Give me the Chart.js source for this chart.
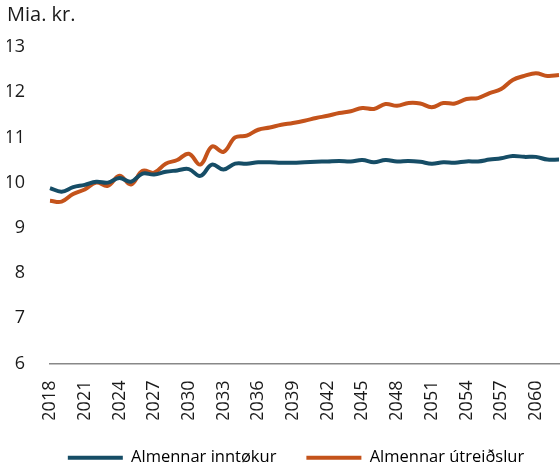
<!DOCTYPE html>
<html>
<head>
<meta charset="utf-8">
<script src="https://cdn.jsdelivr.net/npm/chart.js@4"></script>
<style>
  body { margin: 0; background: #fff; }
</style>
</head>
<body>
<canvas id="linechart" width="560" height="470"></canvas>
<script>
// Years on the x axis, a label is shown every third year
var years = [];
for (var y = 2018; y <= 2062; y++) years.push(String(y));

// Almennar inntøkur (mia. kr.)
var inntokur = [9.88, 9.80, 9.90, 9.95, 10.02, 10.00, 10.10, 10.02, 10.20, 10.18,
                10.24, 10.27, 10.30, 10.15, 10.40, 10.29, 10.42, 10.42, 10.45, 10.45,
                10.44, 10.44, 10.45, 10.46, 10.47, 10.48, 10.47, 10.50, 10.45, 10.50,
                10.47, 10.48, 10.46, 10.42, 10.45, 10.44, 10.47, 10.47, 10.51, 10.54,
                10.59, 10.57, 10.57, 10.51, 10.51];

// Almennar útreiðslur (mia. kr.)
var utreidslur = [9.60, 9.58, 9.75, 9.85, 10.00, 9.93, 10.15, 9.96, 10.26, 10.22,
                  10.42, 10.50, 10.64, 10.40, 10.80, 10.68, 11.00, 11.04, 11.17, 11.22,
                  11.28, 11.32, 11.37, 11.43, 11.48, 11.54, 11.58, 11.65, 11.63, 11.74,
                  11.70, 11.76, 11.75, 11.67, 11.76, 11.75, 11.85, 11.87, 11.98, 12.07,
                  12.27, 12.36, 12.42, 12.36, 12.38];

var blue = "#164d66",
    orange = "#c4531b",
    textColor = "#1a1a1a";

Chart.defaults.font.family = "'Open Sans', sans-serif";
Chart.defaults.font.size = 18;
Chart.defaults.color = textColor;

// nudge the legend a little to the right, like in the original
var legendShift = {
  id: "legendShift",
  afterLayout: function(chart) {
    chart.legend.left += 13;
    chart.legend.right += 13;
  }
};

var ctx = document.getElementById("linechart").getContext("2d");
new Chart(ctx, {
  type: "line",
  data: {
    labels: years,
    datasets: [
      {
        label: "Almennar inntøkur",
        data: inntokur,
        borderColor: blue,
        backgroundColor: blue,
        borderWidth: 4,
        pointRadius: 0,
        tension: 0.4,
        fill: false
      },
      {
        label: "Almennar útreiðslur",
        data: utreidslur,
        borderColor: orange,
        backgroundColor: orange,
        borderWidth: 4,
        pointRadius: 0,
        tension: 0.4,
        fill: false
      }
    ]
  },
  plugins: [legendShift],
  options: {
    responsive: false,
    animation: false,
    layout: { padding: { left: 7, right: 1, top: 0, bottom: -6 } },
    plugins: {
      title: {
        display: true,
        text: "Mia. kr.",
        align: "start",
        color: textColor,
        font: { size: 20, weight: "normal" },
        padding: { top: 3, bottom: 20 }
      },
      legend: {
        position: "bottom",
        labels: {
          boxWidth: 55,
          boxHeight: 4,
          padding: 30,
          color: textColor,
          font: { size: 16.5 },
          generateLabels: function(chart) {
            return chart.data.datasets.map(function(ds, i) {
              return {
                text: ds.label,
                fillStyle: ds.borderColor,
                strokeStyle: ds.borderColor,
                lineWidth: 0,
                datasetIndex: i
              };
            });
          }
        }
      },
      tooltip: { enabled: false }
    },
    scales: {
      x: {
        grid: { display: false },
        border: { display: true, color: "#888", width: 1.5 },
        ticks: {
          autoSkip: false,
          maxRotation: 90,
          minRotation: 90,
          padding: 9,
          callback: function(value, index) {
            return (index % 3 === 0) ? this.getLabelForValue(value) : "";
          }
        },
        afterFit: function(scale) {
          scale.height = 56;
          scale.paddingLeft = 0;
          scale.paddingRight = 0;
        }
      },
      y: {
        min: 6,
        max: 13,
        grid: { display: false },
        border: { display: false },
        ticks: { stepSize: 1, padding: 17 },
        afterFit: function(scale) {
          scale.width = 43;
        }
      }
    }
  }
});
</script>
</body>
</html>
